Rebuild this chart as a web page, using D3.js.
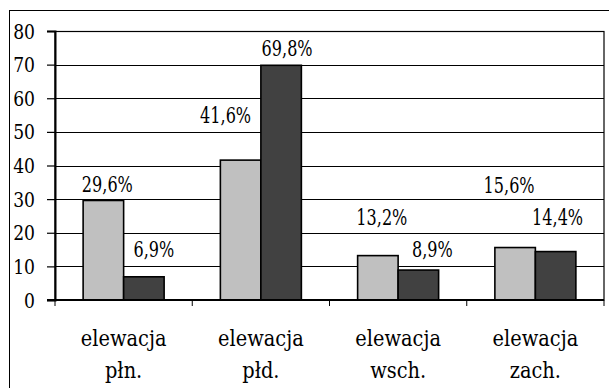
<!DOCTYPE html>
<html>
<head>
<meta charset="utf-8">
<script src="https://cdn.jsdelivr.net/npm/d3@7/dist/d3.min.js"></script>
<style>
  html, body { margin: 0; padding: 0; background: #fff; }
  svg { display: block; }
</style>
</head>
<body>
<svg id="chart" width="609" height="388"></svg>
<script>
// Categories (two-line labels) and the two series, in percent
const categories = ["elewacja|płn.", "elewacja|płd.", "elewacja|wsch.", "elewacja|zach."];
const seriesLight = [29.6, 41.6, 13.2, 15.6];
const seriesDark = [6.9, 69.8, 8.9, 14.4];
const yTicks = [0, 10, 20, 30, 40, 50, 60, 70, 80];

// Hand-placed offsets of the value labels (px, relative to bar centre / bar top)
const labelNudgeLight = [[4, -8], [-15, -37], [4, -31], [-6, -55]];
const labelNudgeDark = [[10, -20], [6, -9], [14, -13], [2, -27]];

const FONT = "DejaVu Serif";

// Narrow the serif glyphs horizontally so they set like a Times face
function squeeze(sel, factor) {
  sel.each(function () {
    const w = this.getComputedTextLength();
    this.setAttribute("textLength", (w * factor).toFixed(2));
    this.setAttribute("lengthAdjust", "spacingAndGlyphs");
  });
}

const svg = d3.select("#chart");
const plot = { left: 55, right: 604, top: 31, bottom: 300 };

// Outer frame (runs off the right and bottom edges)
svg.append("rect")
  .attr("x", 9.5).attr("y", 10.5)
  .attr("width", 620).attr("height", 400)
  .attr("fill", "#fff").attr("stroke", "#000").attr("stroke-width", 1);

const x = d3.scaleBand()
  .domain(d3.range(categories.length))
  .range([plot.left, plot.right]);

const y = d3.scaleLinear().domain([0, 80]).range([plot.bottom, plot.top]);

// Gridlines
svg.append("g")
  .selectAll("line").data(yTicks.filter(t => t > 0)).join("line")
  .attr("x1", plot.left).attr("x2", plot.right)
  .attr("y1", d => Math.round(y(d)) + 0.5).attr("y2", d => Math.round(y(d)) + 0.5)
  .attr("stroke", "#000").attr("stroke-width", 1);

// Plot area border
svg.append("rect")
  .attr("x", plot.left).attr("y", Math.round(y(80)) + 0.5)
  .attr("width", plot.right - plot.left).attr("height", plot.bottom - Math.round(y(80)) - 0.5)
  .attr("fill", "none").attr("stroke", "#000").attr("stroke-width", 1.2);

// Bars
const groups = svg.append("g").selectAll("g")
  .data(categories.map((c, i) => i)).join("g")
  .attr("transform", i => `translate(${x(i)},0)`);

const barW = 40.5;
const pairLeft = (x.bandwidth() - 2 * barW) / 2;

groups.append("rect")
  .attr("x", pairLeft)
  .attr("y", i => y(seriesLight[i]))
  .attr("width", barW)
  .attr("height", i => y(0) - y(seriesLight[i]))
  .attr("fill", "#c0c0c0").attr("stroke", "#000").attr("stroke-width", 1.6);

groups.append("rect")
  .attr("x", pairLeft + barW)
  .attr("y", i => y(seriesDark[i]))
  .attr("width", barW)
  .attr("height", i => y(0) - y(seriesDark[i]))
  .attr("fill", "#414141").attr("stroke", "#000").attr("stroke-width", 1.6);

// Value axis
const yAxis = d3.axisLeft(y).tickValues(yTicks).tickSize(8).tickPadding(12)
  .tickFormat(d3.format("d"));
const gy = svg.append("g").attr("transform", `translate(${plot.left},0)`).call(yAxis)
  .attr("font-family", FONT);
gy.select(".domain").attr("stroke", "#000").attr("stroke-width", 2);
gy.selectAll(".tick line").attr("stroke", "#000").attr("stroke-width", 1.2);
gy.selectAll(".tick text")
  .attr("font-size", 19.5)
  .attr("dy", "0.36em").attr("fill", "#000")
  .call(squeeze, 0.88);

// Category ticks on the x axis
const xTickPos = d3.range(categories.length + 1).map(i => plot.left + i * x.bandwidth());
svg.append("g").selectAll("line").data(xTickPos).join("line")
  .attr("x1", d => d).attr("x2", d => d)
  .attr("y1", plot.bottom).attr("y2", plot.bottom + 6)
  .attr("stroke", "#000").attr("stroke-width", 1);
svg.append("line")
  .attr("x1", plot.left - 8).attr("x2", plot.right)
  .attr("y1", plot.bottom).attr("y2", plot.bottom)
  .attr("stroke", "#000").attr("stroke-width", 2);

// Category labels, one text element per line
const catLines = categories.flatMap((d, i) =>
  d.split("|").map((t, k) => ({ t, i, k })));
svg.append("g")
  .attr("font-family", FONT).attr("font-size", 22).attr("text-anchor", "middle")
  .selectAll("text").data(catLines).join("text")
  .attr("x", d => x(d.i) + x.bandwidth() / 2)
  .attr("y", d => 346 + d.k * 32)
  .text(d => d.t)
  .call(squeeze, 0.88);

// Value labels
const fmt = v => d3.format(".1f")(v).replace(".", ",") + "%";
const labelData = categories.flatMap((c, i) => [
  { v: seriesLight[i], cx: x(i) + pairLeft + barW / 2, n: labelNudgeLight[i] },
  { v: seriesDark[i], cx: x(i) + pairLeft + barW * 1.5, n: labelNudgeDark[i] }
]);
svg.append("g")
  .attr("font-family", FONT).attr("font-size", 22).attr("text-anchor", "middle")
  .selectAll("text").data(labelData).join("text")
  .attr("x", d => d.cx + d.n[0])
  .attr("y", d => y(d.v) + d.n[1])
  .text(d => fmt(d.v))
  .call(squeeze, 0.73);
</script>
</body>
</html>
